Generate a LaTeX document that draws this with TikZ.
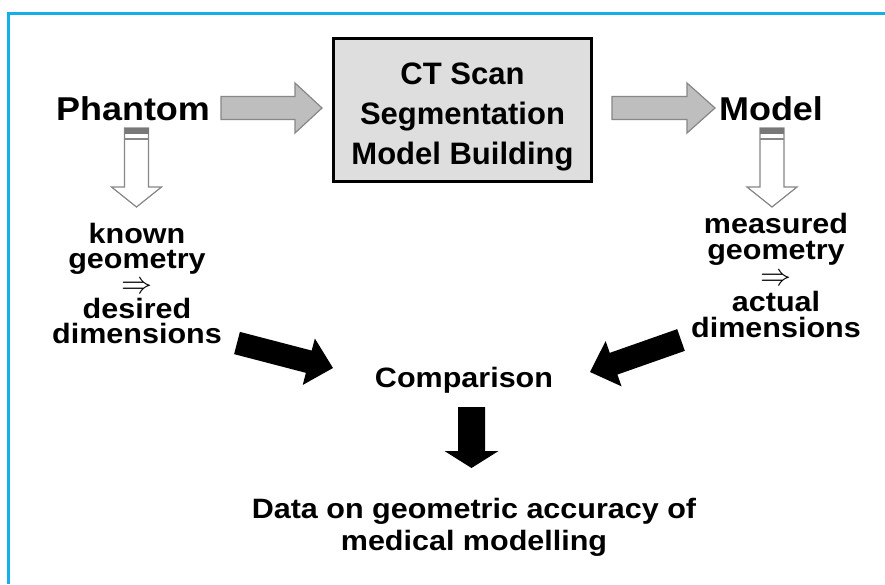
\documentclass[tikz,border=0pt]{standalone}
\usepackage{graphicx}
\usepackage{fontspec}
\setmainfont{Liberation Sans}
\newfontfamily\widesans{Liberation Sans}[FakeStretch=1.09]
\usetikzlibrary{calc}

\definecolor{framecyan}{RGB}{20,174,232}
\definecolor{boxgray}{RGB}{222,222,222}
\definecolor{arrowgray}{RGB}{190,190,190}
\definecolor{edgegray}{RGB}{135,135,135}
\definecolor{bandgray}{RGB}{120,120,120}

% block arrow: style, tail, tip, shaft half width, head half width, head length
\newcommand\blockarrow[6]{%
  \path[#1] let \p1=(#2), \p2=(#3),
    \n1={atan2(\y2-\y1,\x2-\x1)}, \n2={veclen(\x2-\x1,\y2-\y1)} in
    [shift={(\x1,\y1)}, rotate=\n1]
    (0pt,-#4) -- (\n2-#6,-#4) -- (\n2-#6,-#5) -- (\n2,0pt)
    -- (\n2-#6,#5) -- (\n2-#6,#4) -- (0pt,#4) -- cycle;
}

% hollow down arrow with a banded top: centre x, top y
\newcommand\hollowdown[1]{%
  \begin{scope}[shift={(#1)}]
    \draw[edgegray, line width=1.2pt, fill=white, line join=miter]
      (-12,0) -- (12,0) -- (12,59) -- (25,59) -- (0,79) -- (-25,59) -- (-12,59) -- cycle;
    \fill[bandgray] (-12,0) rectangle (12,6);
    \draw[edgegray, line width=1.2pt] (-12,11) -- (12,11);
  \end{scope}
}

% double arrow between two label lines
\newcommand\implies{\resizebox{31pt}{!}{$\Rightarrow$}}

\tikzset{
  lbl/.style={font=\widesans\bfseries\fontsize{28}{25}\selectfont, align=center, inner sep=0pt},
  biglbl/.style={font=\widesans\bfseries\fontsize{33}{36}\selectfont, inner sep=0pt},
  procbox/.style={draw=black, line width=3pt, fill=boxgray, minimum width=258pt,
    minimum height=143pt, inner sep=0pt},
  proctext/.style={align=center, inner sep=0pt, font=\bfseries\fontsize{31}{40}\selectfont},
  grayarrow/.style={fill=arrowgray, draw=edgegray, line width=1.2pt},
  blackarrow/.style={fill=black},
}

\begin{document}
\begin{tikzpicture}[x=1pt, y=-1pt]
  \useasboundingbox (0,0) rectangle (885,584);
  \fill[white] (0,0) rectangle (885,584);

  % frame
  \draw[framecyan, line width=3pt] (8.7,584) -- (8.7,13.5) -- (885,13.5);

  % nodes
  \node[procbox] (proc) at (462.5,110) {};
  \node[proctext] (proclbl) at ($(proc.center)+(0,7)$) {CT Scan\\Segmentation\\Model Building};
  \node[biglbl] (phantom) at (133,109) {Phantom};
  \node[biglbl] (model) at (771,109) {Model};
  \node[lbl] (known) at (137,283) {known\\geometry\\\implies\\desired\\dimensions};
  \node[lbl, font=\widesans\bfseries\fontsize{28}{26}\selectfont] (measured) at (776,275)
    {measured\\geometry\\\implies\\actual\\dimensions};
  \node[lbl] (comp) at (464,380) {Comparison};
  \node[lbl, font=\widesans\bfseries\fontsize{28}{32}\selectfont] (data) at (474,527)
    {Data on geometric accuracy of\\medical modelling};

  % arrow end points
  \coordinate (a1s) at (221,108);  \coordinate (a1e) at (322,108);
  \coordinate (a2s) at (612,108);  \coordinate (a2e) at (715,108);
  \coordinate (b1s) at (237,343);  \coordinate (b1e) at (333,368);
  \coordinate (b2s) at (681,340);  \coordinate (b2e) at (590,372);
  \coordinate (b3s) at (471.5,407); \coordinate (b3e) at (471.5,468);

  % grey process arrows
  \blockarrow{grayarrow}{a1s}{a1e}{11.5pt}{25pt}{27pt}
  \blockarrow{grayarrow}{a2s}{a2e}{11.5pt}{25pt}{28pt}

  % hollow arrows below Phantom and Model
  \hollowdown{136.5,128}
  \hollowdown{772,128}

  % black arrows into and out of the comparison
  \blockarrow{blackarrow}{b1s}{b1e}{11.5pt}{24pt}{25pt}
  \blockarrow{blackarrow}{b2s}{b2e}{11.5pt}{24pt}{25pt}
  \blockarrow{blackarrow}{b3s}{b3e}{13.5pt}{27pt}{17pt}
\end{tikzpicture}
\end{document}
